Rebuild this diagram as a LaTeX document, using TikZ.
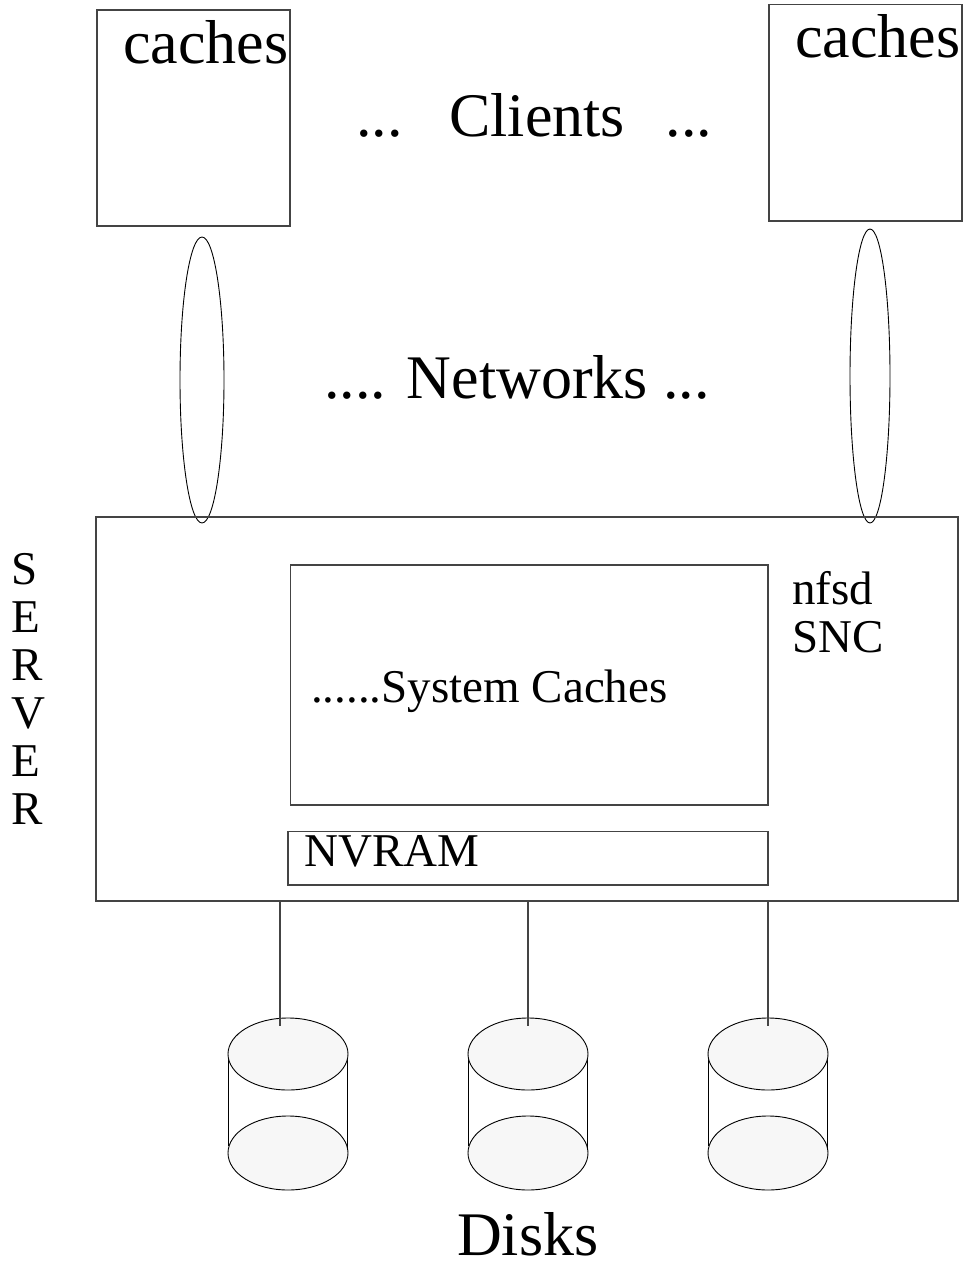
\documentclass[tikz,border=0pt]{standalone}
\usepackage{fontspec}
\setmainfont{Liberation Serif}
\definecolor{diskfill}{HTML}{F7F7F7}
\definecolor{boxline}{HTML}{444444}
\newcommand\BIGTXT{\fontsize{62}{64}\selectfont}
\newcommand\MIDTXT{\fontsize{47}{48}\selectfont}
\tikzset{
  box/.style={draw=boxline, line width=1.3pt, inner sep=0pt},
  txt/.style={inner sep=0pt, anchor=base west},
  netring/.style={draw=black, line width=0.9pt},
  diskline/.style={draw=black, line width=0.9pt, fill=diskfill},
  link/.style={draw=boxline, line width=1.4pt}
}
\begin{document}
\begin{tikzpicture}[x=1pt,y=-1pt]
\useasboundingbox (0,0) rectangle (964,1266);

	% clients
	\node[box, minimum width=193pt, minimum height=216pt] (clientA) at (193.5,118) {};
	\node[box, minimum width=193pt, minimum height=216.5pt] (clientB) at (865.5,112.75) {};
	\node[txt] (cachesA) at (123,63) {\BIGTXT caches};
	\node[txt] (cachesB) at (795,57) {\BIGTXT caches};
	\node[txt] (clients) at (356,136) {\BIGTXT ...\hspace{0.75em}Clients\hspace{0.66em}...};

	% networks
	\draw[netring] (202,380) ellipse [x radius=22pt, y radius=143pt];
	\draw[netring] (870,376) ellipse [x radius=20pt, y radius=147pt];
	\node[txt] (networks) at (324,398) {\BIGTXT .... Networks ...};

	% server
	\node[box, line width=2pt, minimum width=862pt, minimum height=383.5pt] (server) at (526.5,708.75) {};
	\node[box, minimum width=477.5pt, minimum height=240pt] (syscache) at (529.25,685) {};
	\node[box, minimum width=480pt, minimum height=53.5pt] (nvram) at (528,858.25) {};
	\node[txt] (syscachetxt) at (311,702) {\MIDTXT ......System Caches};
	\node[txt] (nvramtxt) at (304,866) {\MIDTXT NVRAM};
	\node[txt] (nfsd) at (792,604) {\MIDTXT\begin{tabular}[t]{@{}l@{}}nfsd\\SNC\end{tabular}};
	\node[txt] (servertxt) at (11,584) {\MIDTXT\begin{tabular}[t]{@{}l@{}}S\\E\\R\\V\\E\\R\end{tabular}};

	% disks
	\foreach \x/\lx/\n in {288/280/1, 528/528/2, 768/768/3}{
		\draw[diskline] (\x,1153) ellipse [x radius=60pt, y radius=37pt];
		\draw[draw=black, line width=0.9pt] (\x-60,1056) -- (\x-60,1146);
		\draw[draw=black, line width=0.9pt] (\x+59,1058) -- (\x+59,1150);
		\draw[diskline] (\x,1054) ellipse [x radius=60pt, y radius=36pt];
		\coordinate (disk\n) at (\lx,1026);
		\draw[link] (server.south -| disk\n) -- (disk\n);
	}
	\node[txt] (disks) at (457,1255) {\BIGTXT Disks};

\end{tikzpicture}
\end{document}
